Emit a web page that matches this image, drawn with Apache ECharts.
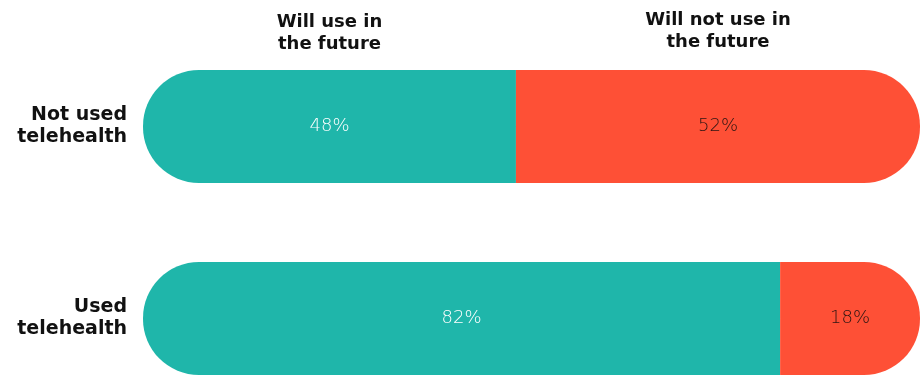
<!DOCTYPE html>
<html>
<head>
<meta charset="utf-8">
<script src="https://cdn.jsdelivr.net/npm/echarts@6/dist/echarts.min.js"></script>
<style>
html,body{margin:0;padding:0;background:#fff;}
#main{width:921px;height:375px;}
</style>
</head>
<body>
<div id="main"></div>
<script>
var categories = ['Not used\ntelehealth', 'Used\ntelehealth'];
var seriesNames = ['Will use in\nthe future', 'Will not use in\nthe future'];
var willUse = [48, 82];
var willNotUse = [52, 18];

var TEAL = '#1fb6aa';
var RED = '#fe5036';
var R = 56;

var chart = echarts.init(document.getElementById('main'));
var option = {
  animation: false,
  backgroundColor: '#ffffff',
  grid: { left: 143, right: 1, top: 30.5, height: 384, containLabel: false, outerBoundsMode: 'none' },
  xAxis: { type: 'value', min: 0, max: 100, show: false },
  yAxis: {
    type: 'category', data: categories, inverse: true,
    axisLine: { show: false }, axisTick: { show: false },
    axisLabel: {
      margin: 16, align: 'right', color: '#111',
      fontFamily: 'DejaVu Sans', fontWeight: 'bold', fontSize: 19, lineHeight: 22
    }
  },
  series: [
    {
      name: seriesNames[0], type: 'bar', stack: 'total', barWidth: 113, clip: false,
      data: willUse,
      itemStyle: { color: TEAL, borderRadius: [R, 0, 0, R] },
      label: {
        show: true, position: 'inside', formatter: '{c}%', color: '#ffffff',
        fontFamily: 'DejaVu Sans', fontWeight: 300, fontSize: 18
      }
    },
    {
      name: seriesNames[1], type: 'bar', stack: 'total', barWidth: 113, clip: false,
      data: willNotUse,
      itemStyle: { color: RED, borderRadius: [0, R, R, 0] },
      label: {
        show: true, position: 'inside', formatter: '{c}%', color: '#2a1512',
        fontFamily: 'DejaVu Sans', fontWeight: 300, fontSize: 18
      }
    }
  ]
};
chart.setOption(option);

var mid0 = willUse[0] / 2;
var mid1 = willUse[0] + willNotUse[0] / 2;
var p0 = chart.convertToPixel({ gridIndex: 0 }, [mid0, 0]);
var p1 = chart.convertToPixel({ gridIndex: 0 }, [mid1, 0]);
chart.setOption({
  graphic: [
    { type: 'text', x: p0[0], y: 33, style: { text: seriesNames[0], fill: '#111', font: 'bold 18px "DejaVu Sans"', lineHeight: 22, align: 'center', verticalAlign: 'middle' } },
    { type: 'text', x: p1[0], y: 31, style: { text: seriesNames[1], fill: '#111', font: 'bold 18px "DejaVu Sans"', lineHeight: 22, align: 'center', verticalAlign: 'middle' } }
  ]
});
</script>
</body>
</html>
